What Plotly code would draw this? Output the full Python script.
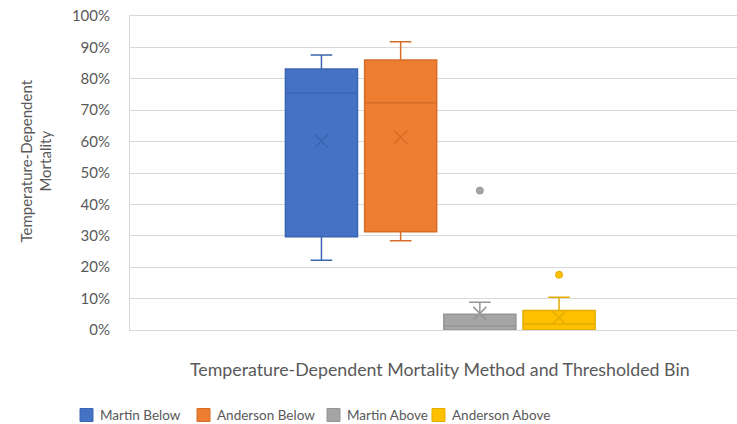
import plotly.graph_objects as go

# Series (one box per temperature-dependent mortality method / bin)
categories = ["Martin Below", "Anderson Below", "Martin Above", "Anderson Above"]
lower_whisker = [0.222, 0.284, 0.000, 0.000]
q1 = [0.297, 0.313, 0.000, 0.000]
median = [0.754, 0.724, 0.013, 0.019]
q3 = [0.831, 0.860, 0.050, 0.062]
upper_whisker = [0.876, 0.918, 0.088, 0.104]
means = [0.602, 0.614, 0.053, 0.039]
outliers = [[], [], [0.444], [0.176]]

fill_colors = ["#4472C4", "#ED7D31", "#A5A5A5", "#FFC000"]
line_colors = ["#3A65B0", "#D66E28", "#969696", "#E3AC00"]

y_ticks = [i / 10 for i in range(11)]
y_tick_text = [f"{i * 10}%" for i in range(11)]

x_title = "Temperature-Dependent Mortality Method and Thresholded Bin"
y_title = "Temperature-Dependent<br>Mortality"

TEXT = "#595959"
GRID = "#D9D9D9"
FONT = "Lato"

# plot-area geometry (px)
W, H = 737, 424
L, R, T, B = 130, 737, 16, 330


def px_x(v):
    return (v - L) / (R - L)


def px_y(v):
    return (B - v) / (B - T)


fig = go.Figure()

for i, name in enumerate(categories):
    fig.add_trace(go.Box(
        x=[name], q1=[q1[i]], median=[median[i]], q3=[q3[i]],
        lowerfence=[lower_whisker[i]], upperfence=[upper_whisker[i]],
        name=name, fillcolor=fill_colors[i],
        line=dict(color=line_colors[i], width=1.5),
        whiskerwidth=0.3, boxpoints=False, boxmean=False, showlegend=False,
    ))
    # mean marker
    fig.add_trace(go.Scatter(
        x=[name], y=[means[i]], mode="markers", showlegend=False,
        marker=dict(symbol="x-thin-open", size=13, color=line_colors[i],
                    line=dict(width=1.5, color=line_colors[i])),
    ))
    if outliers[i]:
        fig.add_trace(go.Scatter(
            x=[name] * len(outliers[i]), y=outliers[i], mode="markers",
            showlegend=False,
            marker=dict(symbol="circle", size=7, color=fill_colors[i],
                        line=dict(width=1, color=line_colors[i])),
        ))

# category spacing chosen so the group sits centred on the full plot area
unit = 79.2
c0 = 321.45
fig.update_xaxes(
    type="category", categoryorder="array", categoryarray=categories,
    range=[-(c0 - L) / unit, (R - c0) / unit],
    showticklabels=False, ticks="", showgrid=False,
    showline=True, mirror=True, linecolor=GRID, linewidth=1,
    zeroline=False, fixedrange=True,
)
fig.update_yaxes(
    range=[0, 1], tickvals=y_ticks, ticktext=y_tick_text,
    showgrid=True, gridcolor=GRID, gridwidth=1,
    showline=True, linecolor=GRID, linewidth=1,
    zeroline=False, ticks="", ticklabelstandoff=16,
    tickfont=dict(family=FONT, size=15, color=TEXT),
)

annotations = [
    dict(text=x_title, xref="x", yref="paper", x=1.5, y=px_y(369),
         xanchor="center", yanchor="middle", showarrow=False,
         font=dict(family=FONT, size=17.8, color=TEXT)),
    dict(text=y_title, xref="paper", yref="paper", x=px_x(36), y=px_y(161.5),
         xanchor="center", yanchor="middle", textangle=-90, showarrow=False,
         font=dict(family=FONT, size=15, color=TEXT)),
]

# legend row
legend_x = [80, 197, 327, 432]
legend_y = 415
shapes = []
for i, name in enumerate(categories):
    shapes.append(dict(
        type="rect", xref="paper", yref="paper",
        x0=px_x(legend_x[i]), x1=px_x(legend_x[i] + 13),
        y0=px_y(legend_y + 6.5), y1=px_y(legend_y - 6.5),
        fillcolor=fill_colors[i], line=dict(color=line_colors[i], width=1),
    ))
    annotations.append(dict(
        text=name, xref="paper", yref="paper",
        x=px_x(legend_x[i] + 18), y=px_y(legend_y),
        xanchor="left", yanchor="middle", showarrow=False,
        font=dict(family=FONT, size=13.5, color=TEXT),
    ))

fig.update_layout(
    width=W, height=H,
    margin=dict(l=L, r=W - R, t=T, b=H - B, pad=0),
    paper_bgcolor="white", plot_bgcolor="white",
    boxmode="overlay", boxgap=0.09, boxgroupgap=0,
    annotations=annotations, shapes=shapes,
    font=dict(family=FONT, color=TEXT),
)

fig.write_html("out.html")
